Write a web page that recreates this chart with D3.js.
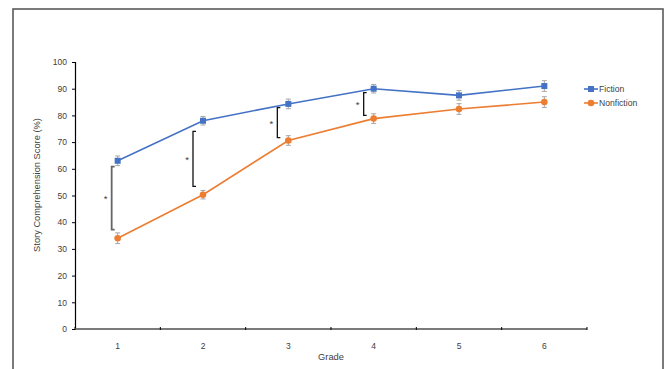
<!DOCTYPE html>
<html>
<head>
  <script src="https://d3js.org/d3.v7.min.js"></script>
  <style>
    body { margin: 0; background: #fff; }
    text { font-family: "Liberation Sans", Arial, sans-serif; fill: #404040; }
  </style>
</head>
<body>
  <script>
    // Data
    const grades = ["1", "2", "3", "4", "5", "6"];
    const fiction = [63, 78, 84.3, 90, 87.5, 91];
    const fictionErr = [1.8, 1.6, 1.8, 1.6, 1.8, 2.0];
    const nonfiction = [34, 50.3, 70.6, 78.8, 82.4, 85];
    const nonfictionErr = [2.0, 1.6, 1.8, 1.8, 2.0, 2.0];
    const yTicks = [0, 10, 20, 30, 40, 50, 60, 70, 80, 90, 100];
    // significance brackets: grade, top, bottom
    const sigGrades = ["1", "2", "3", "4"];
    const sigTop = [60.8, 74, 82.9, 88.5];
    const sigBottom = [37.2, 53.4, 71.7, 80];

    const w = 668, h = 369;
    const padL = 75, padR = 587, padT = 62, padB = 329;

    const svg = d3.select("body").append("svg")
      .attr("width", w)
      .attr("height", h);

    // outer frame
    svg.append("rect")
      .attr("x", 13).attr("y", 9)
      .attr("width", 650).attr("height", 380)
      .attr("fill", "none")
      .attr("stroke", "#5a5a5a")
      .attr("stroke-width", 1.6);

    const x = d3.scaleBand().domain(grades).range([padL, padR]);
    const y = d3.scaleLinear().domain([0, 100]).range([padB, padT]);
    const cx = d => x(d) + x.bandwidth() / 2;

    // y axis
    const yAxis = svg.append("g")
      .attr("transform", "translate(" + padL + ",0)")
      .call(d3.axisLeft(y).tickValues(yTicks).tickSize(3).tickPadding(5));
    yAxis.select(".domain").attr("stroke", "#000").attr("stroke-width", 1.2);
    yAxis.selectAll(".tick line").attr("stroke", "#000");
    yAxis.selectAll("text").style("font-size", "8.5px").attr("fill", "#404040");

    // x axis with ticks on band boundaries
    const xAxis = svg.append("g")
      .attr("transform", "translate(0," + padB + ")");
    xAxis.append("line")
      .attr("x1", padL).attr("x2", padR)
      .attr("stroke", "#7a7a7a").attr("stroke-width", 2);
    xAxis.selectAll(".bt")
      .data(grades.concat(["end"]))
      .enter().append("line")
      .attr("x1", (d, i) => padL + i * x.bandwidth())
      .attr("x2", (d, i) => padL + i * x.bandwidth())
      .attr("y1", -2).attr("y2", 1)
      .attr("stroke", "#000");
    xAxis.selectAll(".lbl")
      .data(grades)
      .enter().append("text")
      .attr("x", d => cx(d))
      .attr("y", 19.5)
      .attr("text-anchor", "middle")
      .style("font-size", "8.5px")
      .text(d => d);

    // axis titles
    svg.append("text")
      .attr("x", (padL + padR) / 2)
      .attr("y", 359.5)
      .attr("text-anchor", "middle")
      .style("font-size", "9.3px")
      .text("Grade");
    svg.append("text")
      .attr("transform", "translate(39.5,185) rotate(-90)")
      .attr("text-anchor", "middle")
      .style("font-size", "9.3px")
      .text("Story Comprehension Score (%)");

    // series
    const series = [
      { name: "Fiction", vals: fiction, err: fictionErr, color: "#4472C4", shape: "square" },
      { name: "Nonfiction", vals: nonfiction, err: nonfictionErr, color: "#ED7D31", shape: "circle" }
    ];

    const line = d3.line()
      .x((d, i) => cx(grades[i]))
      .y(d => y(d));

    series.forEach(s => {
      const g = svg.append("g");
      g.append("path")
        .datum(s.vals)
        .attr("d", line)
        .attr("fill", "none")
        .attr("stroke", s.color)
        .attr("stroke-width", 1.6);

      // error bars
      s.vals.forEach((v, i) => {
        const px = cx(grades[i]);
        const y1 = y(v + s.err[i]), y2 = y(v - s.err[i]);
        g.append("line").attr("x1", px).attr("x2", px).attr("y1", y1).attr("y2", y2)
          .attr("stroke", "#a6a6a6").attr("stroke-width", 1);
        [y1, y2].forEach(yy => {
          g.append("line").attr("x1", px - 2.5).attr("x2", px + 2.5).attr("y1", yy).attr("y2", yy)
            .attr("stroke", "#a6a6a6").attr("stroke-width", 1);
        });
      });

      if (s.shape === "square") {
        g.selectAll("rect.m").data(s.vals).enter().append("rect")
          .attr("x", (d, i) => cx(grades[i]) - 3)
          .attr("y", d => y(d) - 3)
          .attr("width", 6).attr("height", 6)
          .attr("fill", s.color);
      } else {
        g.selectAll("circle.m").data(s.vals).enter().append("circle")
          .attr("cx", (d, i) => cx(grades[i]))
          .attr("cy", d => y(d))
          .attr("r", 3.3)
          .attr("fill", s.color);
      }
    });

    // significance brackets
    const bracketOffset = [6, 10, 11, 10];
    sigGrades.forEach((gd, i) => {
      const bx = cx(gd) - bracketOffset[i];
      const yt = y(sigTop[i]), yb = y(sigBottom[i]);
      const col = i === 0 ? "#666" : "#111";
      svg.append("path")
        .attr("d", "M" + (bx + 3) + "," + yt + "H" + bx + "V" + yb + "H" + (bx + 3))
        .attr("fill", "none")
        .attr("stroke", col)
        .attr("stroke-width", i === 0 ? 1.8 : 1.3);
      svg.append("text")
        .attr("x", bx - 6)
        .attr("y", (yt + yb) / 2 + 4)
        .attr("text-anchor", "middle")
        .style("font-size", "9.5px")
        .attr("fill", "#000")
        .text("*");
    });

    // legend
    const legend = svg.append("g");
    series.forEach((s, i) => {
      const ly = 89 + i * 14;
      legend.append("line")
        .attr("x1", 584).attr("x2", 598).attr("y1", ly).attr("y2", ly)
        .attr("stroke", s.color).attr("stroke-width", 1.6);
      if (s.shape === "square") {
        legend.append("rect").attr("x", 588).attr("y", ly - 3).attr("width", 6).attr("height", 6)
          .attr("fill", s.color);
      } else {
        legend.append("circle").attr("cx", 591).attr("cy", ly).attr("r", 3.3).attr("fill", s.color);
      }
      legend.append("text")
        .attr("x", 599).attr("y", ly + 3)
        .style("font-size", "8.6px")
        .attr("fill", "#595959")
        .text(s.name);
    });
  </script>
</body>
</html>
